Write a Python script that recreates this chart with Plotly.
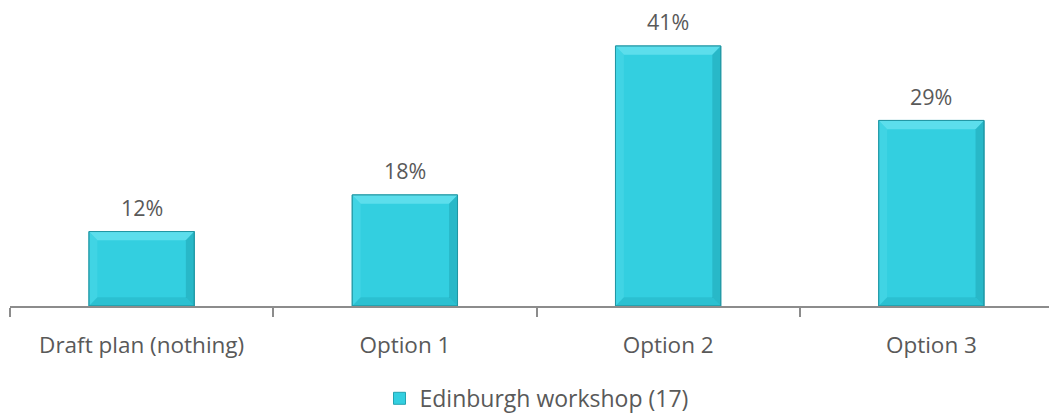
import plotly.graph_objects as go

categories = ["Draft plan (nothing)", "Option 1", "Option 2", "Option 3"]
values = [11.8, 17.6, 41.2, 29.4]
labels = ["12%", "18%", "41%", "29%"]
series_name = "Edinburgh workshop (17)"

FONT = "Open Sans, Lato, sans-serif"
GREY = "#595959"
BAR_W = 0.4

fig = go.Figure()
fig.add_trace(go.Bar(
    x=categories, y=values, name=series_name,
    marker=dict(color="#33cfe0", line=dict(color="#23a3b1", width=1)),
    width=BAR_W,
))

# value labels above bars
for i, (v, t) in enumerate(zip(values, labels)):
    fig.add_annotation(x=categories[i], y=v, text=t, showarrow=False,
                       yanchor="middle", yshift=24, borderpad=0,
                       font=dict(family=FONT, size=21.5, color=GREY))

# bevel effect on each bar
dx = 0.032
dy = 1.4
for i, v in enumerate(values):
    x0, x1 = i - BAR_W / 2, i + BAR_W / 2
    faces = [
        (f"M {x0} {v} L {x1} {v} L {x1-dx} {v-dy} L {x0+dx} {v-dy} Z", "rgba(120,232,244,0.6)"),
        (f"M {x0} {v} L {x0+dx} {v-dy} L {x0+dx} {dy} L {x0} 0 Z", "rgba(80,218,232,0.45)"),
        (f"M {x1} {v} L {x1} 0 L {x1-dx} {dy} L {x1-dx} {v-dy} Z", "rgba(20,140,155,0.35)"),
        (f"M {x0} 0 L {x1} 0 L {x1-dx} {dy} L {x0+dx} {dy} Z", "rgba(25,160,175,0.30)"),
    ]
    for p, c in faces:
        fig.add_shape(type="path", path=p, xref="x", yref="y",
                      fillcolor=c, line=dict(width=0), layer="above")
    fig.add_shape(type="rect", x0=x0, x1=x1, y0=0, y1=v, xref="x", yref="y",
                  line=dict(color="#2196a3", width=1), layer="above")

# note: the page body adds an 8px offset, so margins are reduced accordingly
fig.update_layout(
    width=1057, height=414,
    margin=dict(l=1.5, r=1.5, t=2, b=114),
    paper_bgcolor="white", plot_bgcolor="white",
    font=dict(family=FONT, color=GREY, size=22),
    showlegend=True,
    legend=dict(orientation="h", x=0.5, xanchor="center", y=-0.312, yanchor="middle",
                font=dict(family=FONT, size=23, color=GREY), itemwidth=30),
    bargap=0.6,
)
fig.update_xaxes(showline=True, linecolor="#8c8c8c", linewidth=1.5, automargin=False,
                 range=[-0.5, 3.5],
                 ticks="outside", tickson="boundaries", ticklen=9, tickcolor="#8c8c8c",
                 tickwidth=1.5, ticklabelstandoff=18,
                 tickfont=dict(family=FONT, size=22.5, color=GREY), showgrid=False)
fig.update_yaxes(visible=False, range=[0, 46.9])
fig.write_html("out.html")
